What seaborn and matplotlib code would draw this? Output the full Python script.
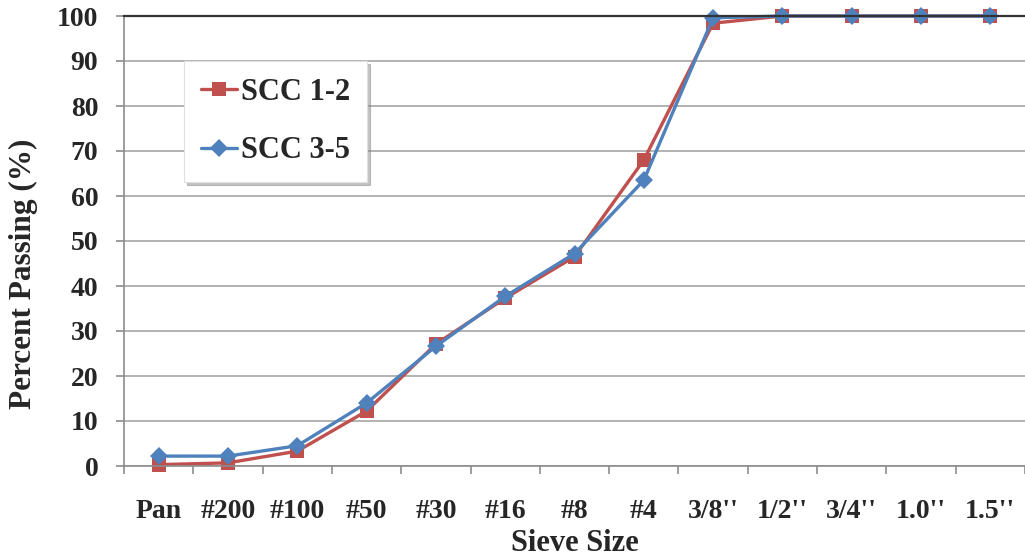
import matplotlib
matplotlib.use("Agg")
import matplotlib.pyplot as plt
import seaborn as sns
import pandas as pd

sieves = ["Pan", "#200", "#100", "#50", "#30", "#16", "#8", "#4",
          "3/8''", "1/2''", "3/4''", "1.0''", "1.5''"]
scc_12 = [0.3, 0.7, 3.3, 12.2, 27.1, 37.3, 46.5, 68.0, 98.4, 100, 100, 100, 100]
scc_35 = [2.2, 2.2, 4.5, 14.0, 26.6, 37.7, 47.2, 63.5, 99.6, 100, 100, 100, 100]
series_names = ["SCC 1-2", "SCC 3-5"]

sns.set_theme(style="white")
plt.rcParams["font.family"] = ["Liberation Serif", "DejaVu Serif"]
plt.rcParams["font.weight"] = "bold"

df = pd.DataFrame({
    "Sieve Size": sieves * 2,
    "Percent Passing (%)": scc_12 + scc_35,
    "Mix": [series_names[0]] * len(sieves) + [series_names[1]] * len(sieves),
})
df["pos"] = df["Sieve Size"].map({s: i for i, s in enumerate(sieves)})

fig = plt.figure(figsize=(10.25, 5.6), dpi=100)
ax = fig.add_axes([124 / 1025, 1 - 466 / 560, 1 - 124 / 1025, 450 / 560])

palette = {"SCC 1-2": "#C0504D", "SCC 3-5": "#4F81BD"}
markers = {"SCC 1-2": "s", "SCC 3-5": "D"}
sizes = {"SCC 1-2": 10.5, "SCC 3-5": 9.5}
for name in series_names:
    sub = df[df["Mix"] == name]
    sns.lineplot(data=sub, x="pos", y="Percent Passing (%)", ax=ax,
                 color=palette[name], marker=markers[name],
                 markersize=sizes[name], markeredgewidth=0,
                 linewidth=2.4, label=name, sort=False, clip_on=False)

ax.set_xlim(-0.5, len(sieves) - 0.5)
ax.set_ylim(0, 100)
ax.set_yticks(range(0, 101, 10))
ax.yaxis.grid(True, color="#a6a6a6", linewidth=1.2)
ax.set_axisbelow(True)

ax.set_xticks(range(len(sieves)))
ax.set_xticklabels(sieves)
ax.set_xticks([i - 0.5 for i in range(len(sieves) + 1)], minor=True)
ax.tick_params(axis="x", which="major", length=0, pad=24, labelsize=20)
ax.tick_params(axis="x", which="minor", length=6, width=1.2, color="#8c8c8c",
               direction="out", bottom=True)
ax.tick_params(axis="y", which="major", length=6, width=1.2, color="#8c8c8c",
               direction="out", left=True, pad=12.5, labelsize=20)
for lab in ax.get_xticklabels() + ax.get_yticklabels():
    lab.set_fontweight("bold")

for side in ["left", "bottom"]:
    ax.spines[side].set_color("#8c8c8c")
    ax.spines[side].set_linewidth(1.2)
ax.spines["top"].set_color("#333333")
ax.spines["top"].set_linewidth(1.6)
ax.spines["right"].set_visible(False)

ax.set_xlabel("Sieve Size", fontsize=22, fontweight="bold")
ax.xaxis.set_label_coords(0.5, -0.14)
ax.set_ylabel("Percent Passing (%)", fontsize=22.5, fontweight="bold")
ax.yaxis.set_label_coords(-0.096, 0.428)

leg = ax.legend(loc="upper left", bbox_to_anchor=(184 / 1025, 1 - 61 / 560),
                bbox_transform=fig.transFigure,
                prop={"weight": "bold", "size": 22},
                handlelength=1.18, handletextpad=0.13, labelspacing=0.97,
                borderpad=0.55, borderaxespad=0, frameon=True, fancybox=False,
                shadow={"color": "#888888", "alpha": 0.5}, markerscale=1.0)
leg.get_frame().set_edgecolor("#e0e0e0")
leg.get_frame().set_linewidth(0.8)

fig.savefig("out.png", dpi=100)
